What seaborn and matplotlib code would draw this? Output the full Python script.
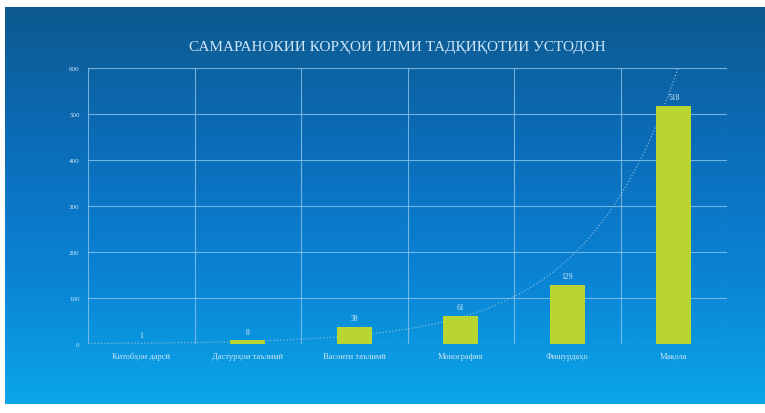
import numpy as np
import pandas as pd
import matplotlib
matplotlib.use('Agg')
import matplotlib.pyplot as plt
import seaborn as sns
from matplotlib.colors import LinearSegmentedColormap

# data
categories = ['Китобҳои дарсӣ', 'Дастурҳои таълимӣ', 'Васоити таълимӣ',
              'Монография', 'Фишурдаҳо', 'Мақола']
values = [1, 8, 38, 61, 129, 518]
yticks = [0, 100, 200, 300, 400, 500, 600]
title = 'САМАРАНОКИИ КОРҲОИ ИЛМИ ТАДҚИҚОТИИ УСТОДОН'

df = pd.DataFrame({'cat': categories, 'val': values})

sns.set_style('white')
plt.rcParams['font.family'] = ['Liberation Serif', 'DejaVu Serif']

fig = plt.figure(figsize=(7.65, 4.14), dpi=100)
fig.patch.set_facecolor('white')

# blue gradient panel behind everything
bg = fig.add_axes([5/765, 9/414, 760/765, 397/414])
cmap = LinearSegmentedColormap.from_list('bg', ['#0d5a8e', '#0b6cb8', '#0a82d4', '#0aa6e8'])
grad = np.linspace(0, 1, 256).reshape(-1, 1)
bg.imshow(grad, aspect='auto', cmap=cmap, extent=[0, 1, 0, 1], origin='upper')
bg.set_axis_off()

ax = fig.add_axes([88/765, 1 - 345/414, 639/765, 276/414])
ax.patch.set_alpha(0)

sns.barplot(data=df, x='cat', y='val', color='#b9d531', width=0.33,
            saturation=1, linewidth=0, edgecolor='none', ax=ax, zorder=3)

# exponential trendline like the spreadsheet one
xs = np.arange(1, len(values) + 1)
b, a = np.polyfit(xs, np.log(values), 1)
xx = np.linspace(0.5, 6.6, 200)
ax.plot(xx - 1, np.exp(a + b * xx), linestyle=':', color='#7fb8dc', lw=0.9, zorder=2)

for i, v in enumerate(values):
    ax.text(i, v + 10, str(v), ha='center', va='bottom', fontsize=5.5,
            color='#d8ecf8', zorder=4)

ax.set_ylim(0, 600)
ax.set_xlim(-0.5, len(categories) - 0.5)
ax.set_yticks(yticks)
ax.set_yticklabels([str(t) for t in yticks], fontsize=5, color='#cfe6f5')
ax.set_xticks(range(len(categories)))
ax.set_xticklabels(categories, fontsize=6, color='#cfe6f5')
ax.tick_params(axis='both', length=0, pad=6)
ax.set_xlabel('')
ax.set_ylabel('')

# grid: horizontal at ticks, vertical at category borders
for t in yticks:
    ax.axhline(t, color='#8cc4ea', lw=0.8, alpha=0.8, zorder=1)
for k in range(len(categories) + 1):
    ax.axvline(k - 0.5, color='#8cc4ea', lw=0.8, alpha=0.8, zorder=1)
for s in ax.spines.values():
    s.set_visible(False)

fig.text(0.52, 1 - 48/414, title, ha='center', va='center', fontsize=11,
         color='#cfe6f7')

fig.savefig('out.png', dpi=100, facecolor='white')
